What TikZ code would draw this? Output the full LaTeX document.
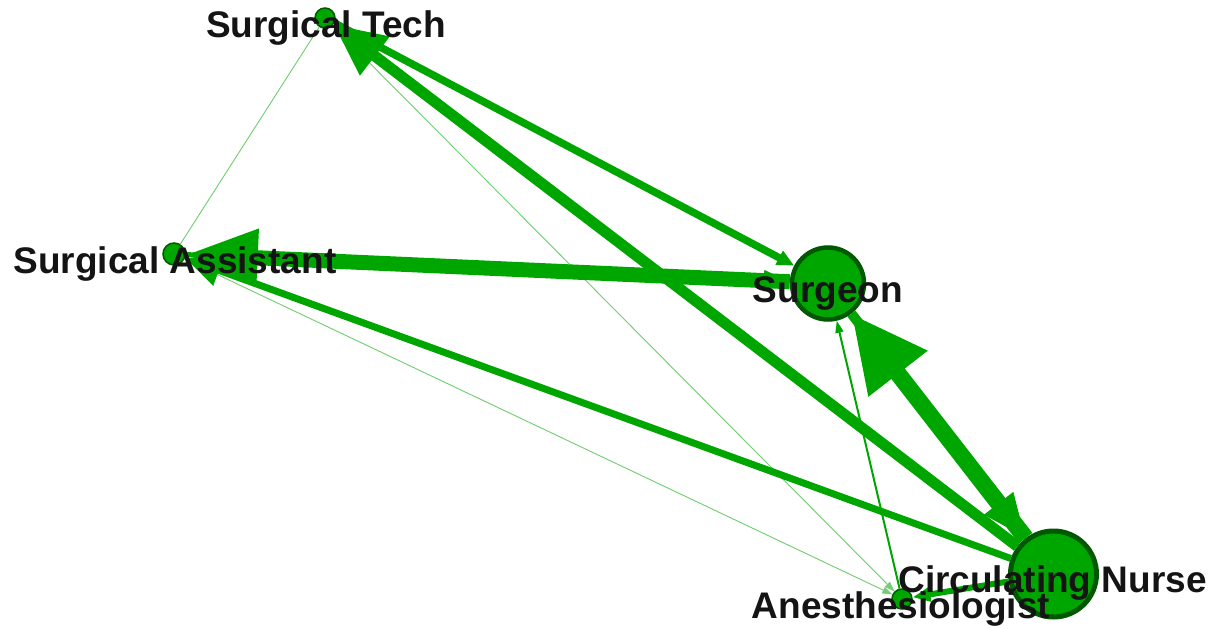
\documentclass[tikz,border=0pt]{standalone}
\usepackage{fontspec}
\setmainfont{Liberation Sans}
\usetikzlibrary{arrows.meta}
\definecolor{edgegreen}{RGB}{0,166,0}
\definecolor{rimgreen}{RGB}{0,88,0}
\begin{document}
\begin{tikzpicture}[x=1pt,y=-1pt,
  actor/.style={circle,fill=edgegreen,draw=rimgreen,inner sep=0pt},
  role/.style={anchor=base,inner sep=0pt,text=black!92,
    font=\fontsize{37}{40}\selectfont\bfseries},
  tie/.style={draw=edgegreen,fill=edgegreen,line cap=butt},
  faint/.style={tie,draw=edgegreen!55,fill=edgegreen!55,line width=0.9pt},
  head/.style args={#1/#2}{-{Triangle[length=#1pt,width=#2pt]}}]
\useasboundingbox (0,0) rectangle (1219,629);
\node[actor,minimum size=20pt,line width=1.5pt] (st) at (325,18) {};
\node[actor,minimum size=22pt,line width=1.5pt] (sa) at (174,254) {};
\node[actor,minimum size=72pt,line width=4.5pt] (sg) at (828,283.5) {};
\node[actor,minimum size=86pt,line width=5pt] (cn) at (1053.5,574) {};
\node[actor,minimum size=20pt,line width=1.5pt] (an) at (902,599) {};
% thin ties first
\draw[faint] (st) -- (sa);
\draw[faint,head=10/7] (sa) -- (an);
\draw[faint,head=10/7] (st) -- (an);
\draw[tie,line width=2pt,head=12/8] (an) -- (sg);
\draw[tie,line width=6pt,head=18/14] (cn) -- (an);
\draw[tie,line width=7pt,head=36/31] (cn) -- (sa);
\draw[tie,line width=7.5pt,head=17/15] (st) -- (sg);
\draw[tie,line width=11pt,head=52/46] (cn) -- (st);
\draw[tie,line width=5pt,head=26/20] (sa) -- (sg);
\draw[tie,line width=15pt,head=72/54] (sg) -- (sa);
\draw[tie,line width=10pt,head=44/34] (sg) -- (cn);
\draw[tie,line width=17pt,head=76/70] (cn) -- (sg);
\node[role] (stname) at (326,37) {Surgical Tech};
\node[role] (saname) at (175,273) {Surgical Assistant};
\node[role] (sgname) at (828,302) {Surgeon};
\node[role] (cnname) at (1052.5,592) {Circulating Nurse};
\node[role] (anname) at (901,618) {Anesthesiologist};
\end{tikzpicture}
\end{document}
